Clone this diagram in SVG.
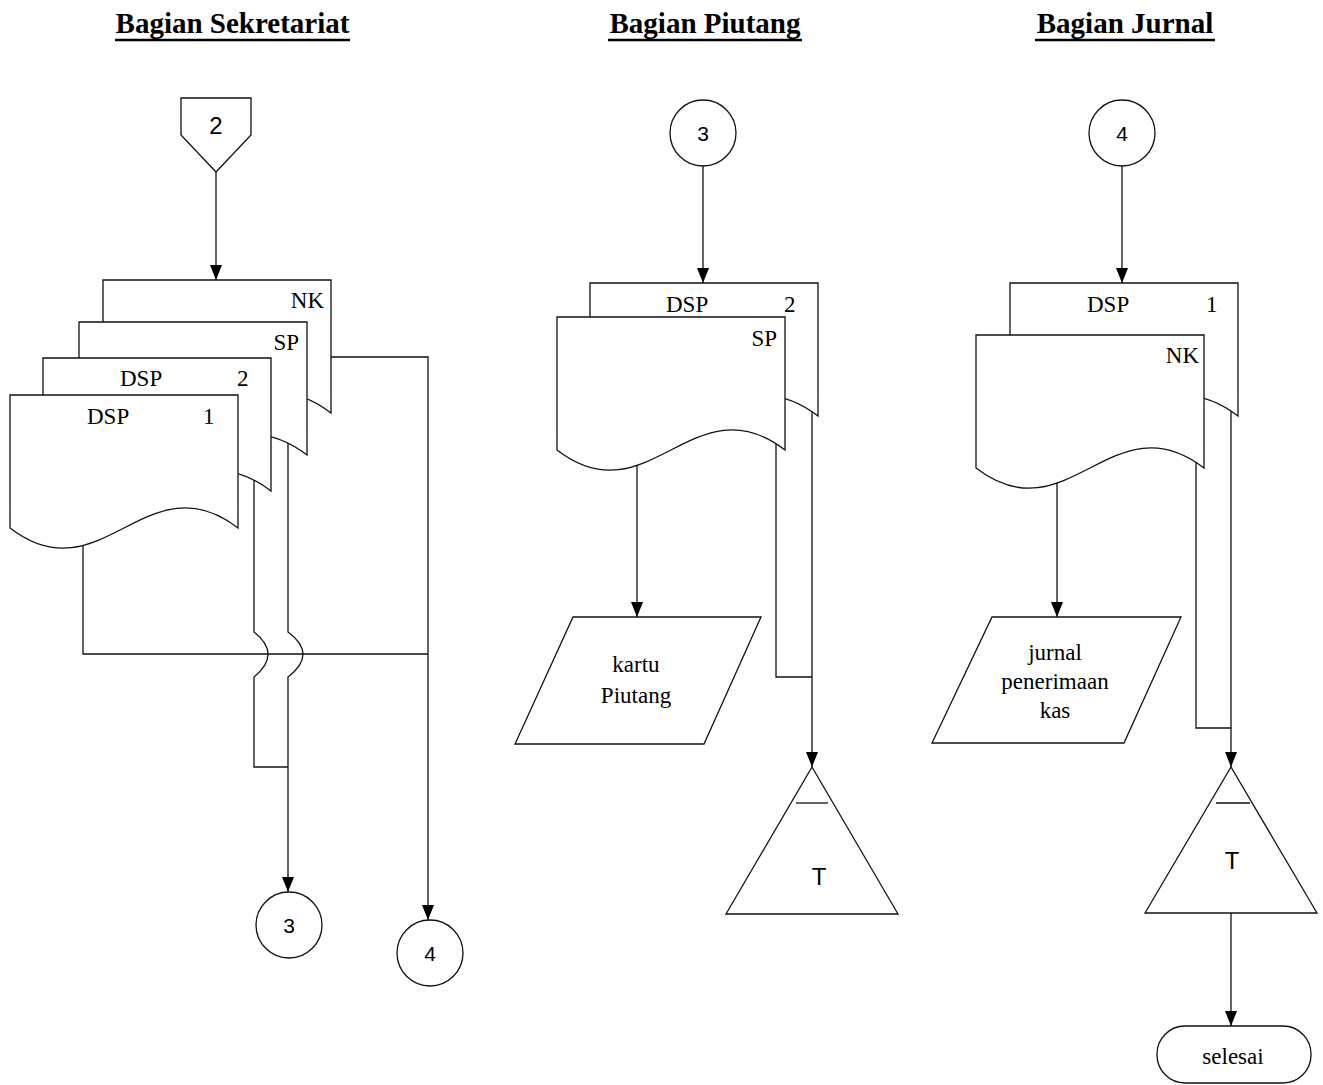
<svg xmlns="http://www.w3.org/2000/svg" xmlns:xlink="http://www.w3.org/1999/xlink" width="1323" height="1085" viewBox="0 0 1323 1085">
<style>
.s{fill:#fff;stroke:#111;stroke-width:1.3}
.c{fill:none;stroke:#111;stroke-width:1.3}
.h{font-family:"Liberation Serif",serif;font-weight:bold;font-size:29px;fill:#000;text-anchor:middle}
.t{font-family:"Liberation Serif",serif;font-size:23px;fill:#000}
.m{text-anchor:middle}
.n{font-family:"Liberation Sans",Arial,sans-serif;font-size:21px;fill:#000;text-anchor:middle}
.u{stroke:#000;stroke-width:2.5}
</style>
<defs>
<marker id="arr" markerUnits="userSpaceOnUse" markerWidth="15" markerHeight="12" refX="15" refY="6" orient="auto">
<path d="M0,0 L15,6 L0,12 Z" fill="#000"/>
</marker>
<path id="doc" d="M0,0 H228 V133 C137,63 91,203 0,133 Z"/>
</defs>

<g id="headers">
<text class="h" x="232.5" y="33">Bagian Sekretariat</text>
<line class="u" x1="115" y1="40" x2="350" y2="40"/>
<text class="h" x="705" y="33">Bagian Piutang</text>
<line class="u" x1="608" y1="40" x2="802" y2="40"/>
<text class="h" x="1125" y="33">Bagian Jurnal</text>
<line class="u" x1="1035" y1="40" x2="1215" y2="40"/>
</g>

<g id="connectors">
<path class="c" d="M216,172 V280" marker-end="url(#arr)"/>
<path class="c" d="M83,540 V654 H428"/>
<path class="c" d="M331,357 H428 V920" marker-end="url(#arr)"/>
<path class="c" d="M254,475 V632 Q282,654 254,677 V767 H288"/>
<path class="c" d="M288,440 V632 Q318,654 288,677 V892" marker-end="url(#arr)"/>
<path class="c" d="M703,150 V283" marker-end="url(#arr)"/>
<path class="c" d="M637,460 V617" marker-end="url(#arr)"/>
<path class="c" d="M776,440 V677 H812"/>
<path class="c" d="M812,405 V767" marker-end="url(#arr)"/>
<path class="c" d="M1122,150 V283" marker-end="url(#arr)"/>
<path class="c" d="M1057,475 V617" marker-end="url(#arr)"/>
<path class="c" d="M1196,455 V728 H1231"/>
<path class="c" d="M1231,405 V767" marker-end="url(#arr)"/>
<path class="c" d="M1231,913 V1026" marker-end="url(#arr)"/>
</g>

<g id="offpage2">
<polygon class="s" points="181,98 251,98 251,135 216,172 181,135"/>
<text class="n" x="216" y="134" style="font-size:24px">2</text>
</g>

<g id="sek-NK">
<use href="#doc" class="s" x="103" y="280"/>
<text class="t" x="324" y="308" text-anchor="end">NK</text>
</g>
<g id="sek-SP">
<use href="#doc" class="s" x="79" y="322"/>
<text class="t" x="299" y="350" text-anchor="end">SP</text>
</g>
<g id="sek-DSP2">
<use href="#doc" class="s" x="43" y="358"/>
<text class="t" x="120" y="386">DSP</text>
<text class="t" x="237" y="386">2</text>
</g>
<g id="sek-DSP1">
<use href="#doc" class="s" x="10" y="395"/>
<text class="t" x="87" y="424">DSP</text>
<text class="t" x="203" y="424">1</text>
</g>

<g id="conn3-left">
<circle class="s" cx="289" cy="925" r="33"/>
<text class="n" x="289" y="933">3</text>
</g>
<g id="conn4-left">
<circle class="s" cx="430" cy="953" r="33"/>
<text class="n" x="430" y="961">4</text>
</g>

<g id="conn3-top">
<circle class="s" cx="703" cy="133" r="33"/>
<text class="n" x="703" y="141">3</text>
</g>
<g id="piu-DSP2">
<use href="#doc" class="s" x="590" y="283"/>
<text class="t" x="666" y="312">DSP</text>
<text class="t" x="784" y="312">2</text>
</g>
<g id="piu-SP">
<use href="#doc" class="s" x="557" y="317"/>
<text class="t" x="777" y="346" text-anchor="end">SP</text>
</g>
<g id="kartu-piutang">
<polygon class="s" points="573,617 761,617 704,744 515,744"/>
<text class="t m" x="636" y="672">kartu</text>
<text class="t m" x="636" y="703">Piutang</text>
</g>
<g id="arsip-piutang">
<polygon class="s" points="812,767 898,914 726,914"/>
<line class="c" x1="796" y1="803" x2="828" y2="803"/>
<text class="n" x="819" y="885" style="font-size:24px">T</text>
</g>

<g id="conn4-top">
<circle class="s" cx="1122" cy="133" r="33"/>
<text class="n" x="1122" y="141">4</text>
</g>
<g id="jur-DSP1">
<use href="#doc" class="s" x="1010" y="283"/>
<text class="t" x="1087" y="312">DSP</text>
<text class="t" x="1206" y="312">1</text>
</g>
<g id="jur-NK">
<use href="#doc" class="s" x="976" y="335"/>
<text class="t" x="1199" y="363" text-anchor="end">NK</text>
</g>
<g id="jurnal-penerimaan-kas">
<polygon class="s" points="992,617 1181,617 1124,743 932,743"/>
<text class="t m" x="1055" y="660">jurnal</text>
<text class="t m" x="1055" y="689">penerimaan</text>
<text class="t m" x="1055" y="718">kas</text>
</g>
<g id="arsip-jurnal">
<polygon class="s" points="1231,767 1317,913 1145,913"/>
<line class="c" x1="1216" y1="803" x2="1250" y2="803"/>
<text class="n" x="1232" y="869" style="font-size:24px">T</text>
</g>
<g id="selesai">
<rect class="s" x="1157" y="1026" width="154" height="57" rx="28" ry="28"/>
<text class="t m" x="1233" y="1064">selesai</text>
</g>
</svg>
